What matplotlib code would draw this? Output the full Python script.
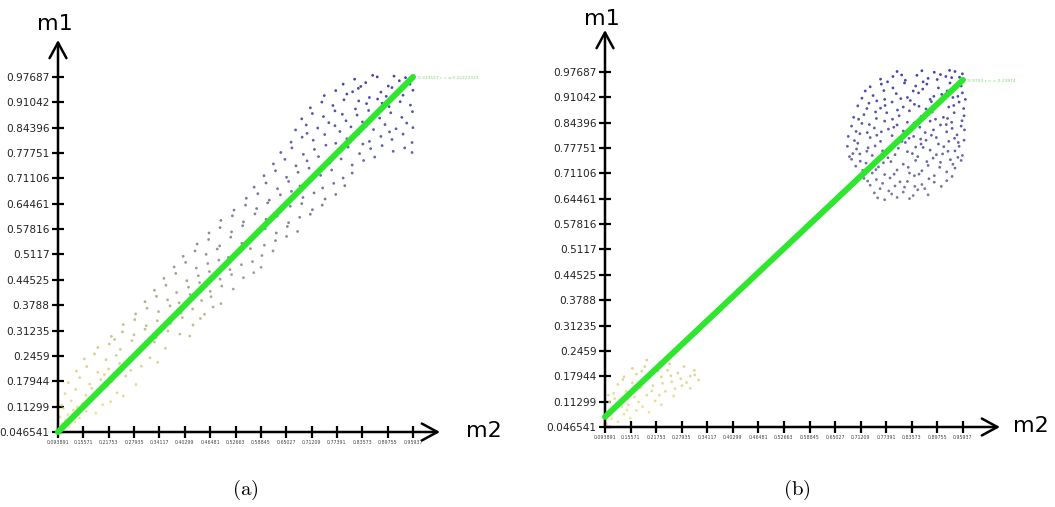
import numpy as np
import matplotlib
matplotlib.use("Agg")
import matplotlib.pyplot as plt
from matplotlib.colors import LinearSegmentedColormap

plt.rcParams['mathtext.fontset'] = 'cm'

# ---------------- data ----------------
m1_ticks = [0.046541, 0.11299, 0.17944, 0.2459, 0.31235, 0.3788, 0.44525, 0.5117,
            0.57816, 0.64461, 0.71106, 0.77751, 0.84396, 0.91042, 0.97687]
m1_tick_labels = ["0.046541", "0.11299", "0.17944", "0.2459", "0.31235", "0.3788", "0.44525",
                  "0.5117", "0.57816", "0.64461", "0.71106", "0.77751", "0.84396", "0.91042", "0.97687"]
m2_ticks = [0.093891, 0.15571, 0.21753, 0.27935, 0.34117, 0.40299, 0.46481, 0.52663,
            0.58845, 0.65027, 0.71209, 0.77391, 0.83573, 0.89755, 0.95937]
m2_tick_labels = ["0.093891", "0.15571", "0.21753", "0.27935", "0.34117", "0.40299", "0.46481",
                  "0.52663", "0.58845", "0.65027", "0.71209", "0.77391", "0.83573", "0.89755", "0.95937"]

# panel (a) points, thousandths (m2, m1)
pts_a = [
 (97,55),(104,68),(121,61),(112,77),(135,73),(101,49),
 (99,86),(118,92),(146,83),(163,101),(131,104),(186,96),(107,108),
 (103,117),(126,128),(154,121),(178,133),(203,118),(222,126),(141,112),
 (111,147),(137,158),(162,143),(189,152),(214,166),(238,149),(176,161),(253,141),
 (119,176),(147,189),(171,172),(198,184),(226,179),(259,193),(284,171),(207,197),
 (139,206),(164,218),(191,203),(217,212),(244,226),(271,208),(297,219),(232,201),
 (158,238),(183,251),(211,236),(236,247),(263,232),(289,255),(318,241),(337,229),
 (191,268),(219,277),(246,263),(274,286),(301,271),(329,282),(356,266),(232,289),
 (224,297),(251,309),(279,301),(306,316),(333,294),(362,311),(391,303),(415,298),
 (253,328),(281,341),(309,325),(336,338),(368,331),(397,346),(423,327),(441,344),
 (283,356),(311,371),(339,362),(367,377),(394,358),(422,369),(451,355),(472,374),
 (306,388),(334,402),(361,393),(389,385),(416,407),(444,391),(467,401),(491,383),
 (329,418),(357,431),(383,412),(412,426),(439,438),(465,415),(493,429),(521,421),
 (352,449),(381,462),(408,443),(436,456),(463,467),(489,447),(517,459),(546,451),(571,464),
 (377,479),(405,491),(431,476),(459,488),(486,497),(513,472),(541,485),(568,493),(589,478),
 (399,507),(428,521),(455,512),(482,526),(509,504),(537,518),(563,527),(591,509),(618,521),
 (433,539),(461,551),(488,534),(515,557),(542,541),(569,553),(597,536),(624,548),(651,559),
 (462,568),(489,582),(517,571),(544,587),(571,563),(599,579),(626,568),(653,585),(678,572),
 (491,601),(519,613),(546,597),(574,618),(601,604),(628,612),(656,595),(683,609),(709,617),
 (523,628),(551,641),(578,632),(605,647),(633,624),(660,638),(688,645),(714,629),(738,641),
 (553,659),(581,671),(609,654),(636,668),(663,677),(691,661),(718,673),(745,657),(771,669),
 (572,688),(601,699),(629,684),(656,703),(684,691),(711,707),(739,686),(766,698),(793,692),
 (596,718),(624,731),(651,714),(679,727),(706,738),(734,719),(761,733),(789,712),(811,725),
 (619,749),(647,761),(674,744),(701,757),(729,768),(756,751),(784,762),(811,746),(839,758),(866,767),
 (637,779),(664,791),(692,774),(719,787),(747,798),(774,781),(801,793),(829,776),(856,789),(884,797),
 (911,782),(939,791),(957,779),
 (662,806),(689,819),(716,811),(744,826),(771,803),(798,815),(826,828),(853,808),(881,821),(908,813),
 (935,827),(957,805),(701,829),(837,801),
 (673,838),(699,851),(727,843),(754,857),(781,834),(808,846),(836,859),(863,839),(891,852),(918,841),
 (944,856),(959,844),(769,849),(902,833),
 (688,867),(714,881),(741,873),(769,888),(796,862),(823,877),(851,889),(878,869),(905,883),(932,871),
 (958,886),(787,879),(863,876),
 (709,896),(737,911),(764,902),(791,917),(819,893),(846,907),(873,919),(901,899),(928,912),(953,903),
 (827,914),(884,908),
 (743,928),(771,941),(798,932),(826,947),(853,923),(881,937),(908,949),(935,929),(959,942),(812,938),(894,926),
 (789,958),(817,971),(844,962),(872,977),(899,953),(926,967),(952,958),(861,981),(913,979),(941,975),(832,952),
]

# panel (b) points, thousandths (m2, m1)
pts_b = [
 (98,55),(110,68),(125,60),(100,85),(118,95),(140,80),(155,70),(170,90),(105,112),(130,118),(150,105),(185,100),(200,85),
 (115,135),(145,140),(165,125),(195,130),(215,115),(230,105),(125,158),(160,162),(180,150),(210,155),(240,140),(260,128),
 (140,178),(170,185),(200,175),(230,178),(255,165),(280,155),(300,148),(160,200),(190,205),(215,198),(245,195),(270,188),
 (300,180),(320,170),(195,222),(225,215),(250,212),(285,205),(310,195),(102,130),(135,100),(175,112),(225,130),
 (107,77),(121,103),(147,91),(163,149),(187,167),(207,141),(233,161),(263,147),(277,173),(149,121),(183,193),(221,193),
 (253,181),(291,163),(117,121),(137,171),(311,183),
 (770,642),(800,648),(830,645),(745,660),(780,665),(815,662),(850,668),(875,655),(735,680),(765,685),(795,678),(825,690),
 (860,682),(890,688),(920,692),(720,698),(750,695),
 (710,705),(740,712),(770,708),(800,720),(830,712),(860,718),(890,705),(920,715),(940,725),(700,730),(725,738),(755,728),
 (785,742),(815,735),(845,745),(875,732),(905,740),(935,735),(955,745),(690,748),
 (685,755),(710,762),(740,758),(765,770),(795,760),(825,768),(850,755),(880,772),(910,762),(940,770),(958,758),(680,782),
 (705,790),(730,778),(760,795),(790,785),(820,792),(845,780),(870,798),(900,788),(925,795),(950,782),(962,798),
 (682,808),(710,815),(735,805),(762,820),(788,810),(815,822),(840,808),(868,818),(895,805),(920,820),(945,812),(963,825),
 (690,835),(715,842),(745,830),(770,848),(800,838),(825,845),(855,832),(880,848),(905,838),(932,845),(955,835),
 (695,858),(720,865),(750,855),(775,870),(805,862),(830,875),(858,860),(885,872),(912,858),(938,870),(962,862),
 (705,888),(732,895),(760,882),(788,898),(815,885),(842,892),(870,880),(898,895),(925,885),(950,898),
 (715,908),(742,915),(770,905),(798,920),(825,910),(852,922),(880,905),(908,918),(935,910),(958,922),
 (735,938),(762,945),(790,935),(818,948),(845,940),(872,945),(900,935),(928,948),(955,940),
 (760,958),(790,965),(820,955),(848,968),(875,960),(905,970),(932,962),(958,972),(800,978),(860,980),(890,976),(940,978),
 (725,722),(778,752),(812,795),(858,788),(888,825),(922,855),(748,872),(832,902),(862,932),(918,965),(792,832),(872,742),
 (948,792),(702,775),(818,675),(842,705),(768,928),(895,760),(728,818),(965,905),
 (753,647),(787,657),(839,653),(867,671),(759,671),(807,689),(843,677),(907,677),(729,691),(783,699),(877,697),(933,703),
 (717,719),(749,721),(793,709),(853,709),(903,727),(929,747),(711,743),(767,739),(827,727),(887,751),(693,763),(727,769),
 (781,773),(837,763),(863,779),(923,769),(947,753),(697,797),(747,783),(803,777),(857,801),(913,781),(939,803),(701,821),
 (751,811),(779,827),(829,803),(883,811),(933,829),(957,849),(707,853),(733,839),(789,853),(841,843),(893,853),(919,839),
 (727,881),(771,889),(801,877),(853,887),(883,899),(937,889),(961,881),(723,927),(751,901),(809,907),(839,927),(889,913),
 (921,927),(947,913),(777,951),(811,969),(863,951),(897,957),(927,981),(951,963),
]

# fitted lines (m2 endpoints, m1 endpoints)
fit_a_m2 = [0.093891, 0.95937]
fit_a_m1 = [0.046541, 0.97687]
fit_b_m2 = [0.093891, 0.95937]
fit_b_m1 = [0.073, 0.956]
fit_a_text = "0.333557 r = a 0.22222333"
fit_b_text = "0.9753 r = = 0.23974"

# ---------------- drawing ----------------
W, H = 1055, 507
fig = plt.figure(figsize=(W / 100, H / 100), dpi=100)

cmap = LinearSegmentedColormap.from_list(
    "yb", ["#efe48a", "#d8cb84", "#a39d80", "#76758f", "#5050a8", "#2e2ea6"])


def make_panel(px_left, px_right, px_bottom, px_top, sx, sy, pts, fm2, fm1, ftxt, m1_xy, m2_xy):
    ax = fig.add_axes([px_left / W, (H - px_bottom) / H,
                       (px_right - px_left) / W, (px_bottom - px_top) / H])
    dx = m2_ticks[1] - m2_ticks[0]
    dy = m1_ticks[1] - m1_ticks[0]
    ax.set_xlim(m2_ticks[0], m2_ticks[0] + (px_right - px_left) / sx * dx)
    ax.set_ylim(m1_ticks[0], m1_ticks[0] + (px_bottom - px_top) / sy * dy)
    for s in ax.spines.values():
        s.set_visible(False)
    ax.set_xticks(m2_ticks)
    ax.set_xticklabels(m2_tick_labels, fontsize=3.4, color="#444444")
    ax.set_yticks(m1_ticks)
    ax.set_yticklabels(m1_tick_labels, fontsize=7.6, color="#222222")
    ax.tick_params(axis="both", direction="inout", length=9, width=1.6, color="black", pad=1.5)
    ax.tick_params(axis="x", pad=1.0)
    ax.annotate("", xy=(1, 0), xytext=(0, 0), xycoords="axes fraction",
                arrowprops=dict(arrowstyle="->,head_length=0.7,head_width=0.38", lw=1.8,
                                color="black", mutation_scale=16, shrinkA=0, shrinkB=0))
    ax.annotate("", xy=(0, 1), xytext=(0, 0), xycoords="axes fraction",
                arrowprops=dict(arrowstyle="->,head_length=0.7,head_width=0.38", lw=1.8,
                                color="black", mutation_scale=16, shrinkA=0, shrinkB=0))
    xs = np.array([p[0] for p in pts]) / 1000.0
    ys = np.array([p[1] for p in pts]) / 1000.0
    ax.scatter(xs, ys, c=ys, cmap=cmap, vmin=0.05, vmax=0.98, s=4, marker="o",
               linewidths=0, alpha=0.9, zorder=2)
    ax.plot(fm2, fm1, color="#2de62d", lw=4.3, solid_capstyle="round", zorder=3, clip_on=False)
    ax.text(fm2[1] + 0.012, fm1[1] - 0.004, ftxt, fontsize=3.2, color="#7ada6e",
            ha="left", va="center", clip_on=False)
    fig.text(m1_xy[0] / W, 1 - m1_xy[1] / H, "m1", fontsize=16, ha="center", va="center")
    fig.text(m2_xy[0] / W, 1 - m2_xy[1] / H, "m2", fontsize=16, ha="center", va="center")
    return ax


make_panel(58, 440, 432, 40, 25.36, 25.36, pts_a, fit_a_m2, fit_a_m1, fit_a_text, (55, 24), (484, 431))
make_panel(605, 1000, 427, 30, 25.57, 25.36, pts_b, fit_b_m2, fit_b_m1, fit_b_text, (602, 19), (1031, 426))

fig.text(245 / W, 1 - 490 / H, r"$\mathrm{(a)}$", fontsize=15, ha="center", va="center")
fig.text(797 / W, 1 - 490 / H, r"$\mathrm{(b)}$", fontsize=15, ha="center", va="center")

fig.savefig("out.png", dpi=100)
